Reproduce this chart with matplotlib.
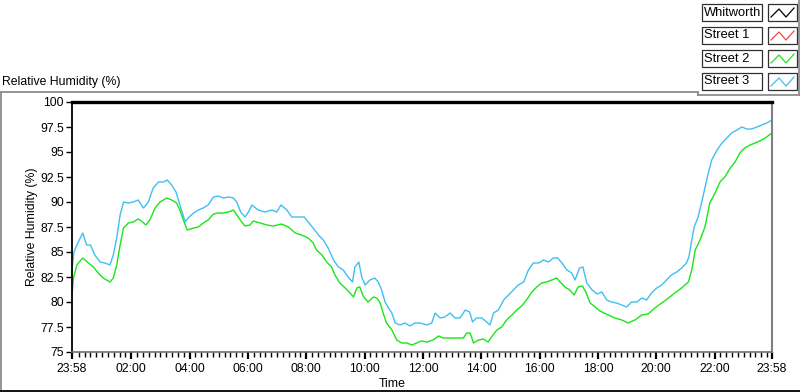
"""Relative humidity over one day - LabVIEW style chart."""

import matplotlib

matplotlib.use("Agg")
import matplotlib.pyplot as plt
from matplotlib.lines import Line2D
from matplotlib.patches import Rectangle

# minutes elapsed since 23:58
street2_t = [0, 3, 10, 22, 34, 44, 54, 64, 78, 85, 92, 99, 106, 116, 126, 136,
             143, 152, 160, 171, 181, 195, 205, 215, 222, 229, 237, 250, 260,
             270, 280, 291, 301, 311, 322, 332, 339, 349, 356, 366, 373, 387,
             401, 414, 431, 445, 459, 472, 486, 496, 503, 514, 524, 534, 541,
             551, 562, 572, 579, 586, 592, 599, 609, 620, 627, 634, 640, 647,
             658, 668, 678, 689, 699, 709, 719, 730, 743, 754, 764, 774, 784,
             795, 805, 812, 819, 826, 836, 846, 856, 863, 874, 884, 894, 905,
             915, 925, 935, 946, 956, 966, 976, 987, 997, 1004, 1014, 1024,
             1033, 1041, 1050, 1057, 1066, 1076, 1086, 1103, 1117, 1131, 1144,
             1158, 1172, 1185, 1199, 1213, 1227, 1240, 1254, 1268, 1275, 1282,
             1292, 1302, 1312, 1323, 1333, 1343, 1354, 1364, 1374, 1384, 1395,
             1405, 1415, 1426, 1440]
street2_rh = [80.6, 82.4, 83.7, 84.4, 83.9, 83.5, 82.9, 82.4, 82.0, 82.4, 83.7,
              85.7, 87.4, 87.9, 88.0, 88.3, 88.1, 87.7, 88.2, 89.4, 90.0, 90.4,
              90.2, 89.9, 89.2, 88.2, 87.2, 87.4, 87.5, 87.9, 88.2, 88.8, 88.9,
              88.9, 89.0, 89.2, 88.7, 88.0, 87.6, 87.7, 88.1, 87.9, 87.7, 87.6,
              87.8, 87.5, 86.9, 86.7, 86.4, 85.9, 85.2, 84.7, 84.0, 83.5, 82.7,
              81.9, 81.4, 80.9, 80.5, 81.4, 81.5, 80.6, 80.0, 80.5, 80.4, 79.9,
              78.9, 77.9, 77.2, 76.2, 75.9, 75.9, 75.7, 75.9, 76.1, 76.0, 76.2,
              76.6, 76.4, 76.4, 76.4, 76.4, 76.4, 76.9, 76.9, 75.9, 76.2, 76.3,
              76.0, 76.5, 77.2, 77.5, 78.2, 78.7, 79.2, 79.6, 80.2, 81.0, 81.5,
              81.9, 82.0, 82.2, 82.4, 82.0, 81.5, 81.2, 80.7, 81.5, 81.6, 81.0,
              79.9, 79.5, 79.1, 78.7, 78.4, 78.2, 77.9, 78.2, 78.7, 78.8, 79.4,
              79.9, 80.4, 80.9, 81.4, 82.0, 83.2, 85.2, 86.2, 87.5, 89.9, 90.9,
              92.0, 92.5, 93.4, 94.0, 94.9, 95.4, 95.7, 95.9, 96.1, 96.4, 96.9]

street3_t = [0, 4, 13, 22, 30, 38, 47, 58, 68, 78, 85, 92, 99, 106, 116, 126,
             136, 147, 157, 167, 178, 188, 196, 205, 214, 222, 233, 239, 250,
             260, 270, 280, 291, 301, 311, 322, 332, 339, 347, 356, 363, 370,
             383, 397, 411, 421, 430, 442, 452, 466, 478, 486, 496, 507, 517,
             527, 538, 548, 558, 568, 577, 582, 590, 596, 603, 613, 623, 630,
             637, 644, 651, 658, 665, 675, 685, 695, 706, 716, 730, 740, 747,
             757, 767, 778, 788, 798, 809, 818, 824, 832, 843, 853, 860, 867,
             877, 888, 898, 908, 918, 929, 939, 949, 960, 970, 980, 990, 999,
             1008, 1018, 1028, 1035, 1044, 1051, 1059, 1070, 1080, 1090, 1100,
             1110, 1120, 1131, 1141, 1151, 1162, 1172, 1182, 1192, 1203, 1213,
             1223, 1233, 1244, 1254, 1264, 1269, 1275, 1280, 1288, 1295, 1301,
             1308, 1316, 1327, 1337, 1347, 1357, 1368, 1378, 1388, 1398, 1409,
             1419, 1429, 1440]
street3_rh = [83.2, 85.0, 86.0, 86.9, 85.7, 85.7, 84.7, 84.0, 83.9, 83.7, 84.7,
              86.4, 88.7, 90.0, 89.9, 90.0, 90.2, 89.4, 90.0, 91.4, 92.0, 92.0,
              92.2, 91.7, 91.0, 89.7, 88.0, 88.4, 88.9, 89.2, 89.4, 89.7, 90.5,
              90.6, 90.4, 90.5, 90.4, 90.0, 89.0, 88.5, 89.0, 89.7, 89.2, 89.0,
              89.2, 89.0, 89.7, 89.2, 88.5, 88.5, 88.5, 88.0, 87.4, 86.7, 86.2,
              85.4, 84.2, 83.5, 83.2, 82.5, 82.0, 83.5, 84.0, 82.5, 81.7, 82.2,
              82.4, 82.0, 81.2, 80.0, 79.4, 78.9, 77.9, 77.7, 77.9, 77.6, 77.9,
              77.9, 77.7, 77.9, 78.9, 78.4, 78.5, 78.9, 78.4, 78.4, 79.2, 79.0,
              78.0, 78.4, 78.4, 78.0, 77.7, 78.9, 79.2, 80.2, 80.7, 81.2, 81.7,
              82.0, 83.2, 83.9, 83.9, 84.2, 84.0, 84.4, 84.4, 83.9, 83.2, 82.9,
              82.2, 83.4, 83.5, 81.9, 81.2, 80.8, 81.0, 80.2, 80.0, 79.9, 79.7,
              79.5, 80.0, 80.0, 80.4, 80.2, 80.9, 81.4, 81.7, 82.2, 82.7, 83.0,
              83.4, 83.9, 84.5, 86.2, 87.5, 88.5, 89.9, 91.2, 92.7, 94.2, 95.2,
              95.9, 96.4, 96.9, 97.2, 97.5, 97.3, 97.3, 97.5, 97.7, 97.9, 98.2]

legend_names = ["Whitworth", "Street 1", "Street 2", "Street 3"]
legend_colors = ["#000000", "#f04848", "#19e619", "#40bff2"]

x_labels = ["23:58", "02:00", "04:00", "06:00", "08:00", "10:00", "12:00",
            "14:00", "16:00", "18:00", "20:00", "22:00", "23:58"]
y_ticks = [75, 77.5, 80, 82.5, 85, 87.5, 90, 92.5, 95, 97.5, 100]
y_labels = ["75", "77.5", "80", "82.5", "85", "87.5", "90", "92.5", "95",
            "97.5", "100"]

START = 23 * 60 + 58


def to_min(label, last=False):
    h, m = label.split(":")
    v = (int(h) * 60 + int(m) - START) % 1440
    return 1440 if (last and v == 0) else v


plt.rcParams.update({"font.family": ["Liberation Sans", "DejaVu Sans"],
                     "font.size": 8.5})

W, H = 800, 392
fig = plt.figure(figsize=(W / 100, H / 100), dpi=100)


def fx(px):
    return px / W


def fy(py):
    return 1 - py / H


ax = fig.add_axes([fx(72), fy(352), (772 - 72) / W, (352 - 102) / H])
ax.plot(street2_t, street2_rh, color=legend_colors[2], lw=1.0)
ax.plot(street3_t, street3_rh, color=legend_colors[3], lw=1.0)

ax.set_xlim(0, 1440)
ax.set_ylim(75, 100)

xt = [to_min(lab, last=(i == len(x_labels) - 1)) for i, lab in enumerate(x_labels)]
ax.set_xticks(xt)
ax.set_xticklabels(x_labels)
minor = [m for m in range(2, 1441, 12) if all(abs(m - t) > 5 for t in xt)]
ax.set_xticks(minor, minor=True)
ax.set_yticks(y_ticks)
ax.set_yticklabels(y_labels)

ax.tick_params(axis="x", which="major", length=5, width=1.6, pad=3,
               color="black", labelsize=8.8)
ax.tick_params(axis="x", which="minor", length=3.5, width=1.0, color="black")
ax.tick_params(axis="y", which="major", length=4, width=1.0, pad=2,
               color="black", labelsize=8.8)

ax.spines["left"].set_color("black")
ax.spines["left"].set_linewidth(1.3)
ax.spines["top"].set_color("black")
ax.spines["top"].set_linewidth(2.4)
ax.spines["right"].set_color("#808080")
ax.spines["right"].set_linewidth(1.5)
ax.spines["bottom"].set_color("#707070")
ax.spines["bottom"].set_linewidth(1.2)

fig.text(fx(32), fy(227), "Relative Humidity (%)", rotation=90,
         ha="center", va="center", fontsize=8.8)
fig.text(fx(392), fy(384), "Time", ha="center", va="center", fontsize=8.8)
fig.text(fx(2), fy(82), "Relative Humidity (%)", ha="left", va="center",
         fontsize=8.8)

# panel borders
gray = "#8c8c8c"
border = [((0, 698), (92, 92), gray), ((698, 698), (92, 95), gray),
          ((698, 799), (95, 95), gray), ((799, 799), (0, 95), gray),
          ((1, 1), (92, 392), gray), ((0, 800), (390.5, 390.5), "black")]
for xs, ys, c in border:
    fig.add_artist(Line2D([fx(v) for v in xs], [fy(v) for v in ys],
                          color=c, lw=1.3))

# legend
rows_top = [4, 27, 50, 73]
for name, col, top in zip(legend_names, legend_colors, rows_top):
    h = 17
    fig.add_artist(Rectangle((fx(702), fy(top + h)), 60 / W, h / H,
                             facecolor="white", edgecolor="#303030", lw=0.9))
    fig.text(fx(704), fy(top + h / 2), name, ha="left", va="center",
             fontsize=9.3)
    fig.add_artist(Rectangle((fx(768), fy(top + h)), 29 / W, h / H,
                             facecolor="white", edgecolor="#303030", lw=0.9))
    zx = [771, 779, 786, 794]
    zy = [top + 13, top + 5, top + 13, top + 4]
    fig.add_artist(Line2D([fx(v) for v in zx], [fy(v) for v in zy],
                          color=col, lw=0.9))

fig.savefig("out.png", dpi=100)
